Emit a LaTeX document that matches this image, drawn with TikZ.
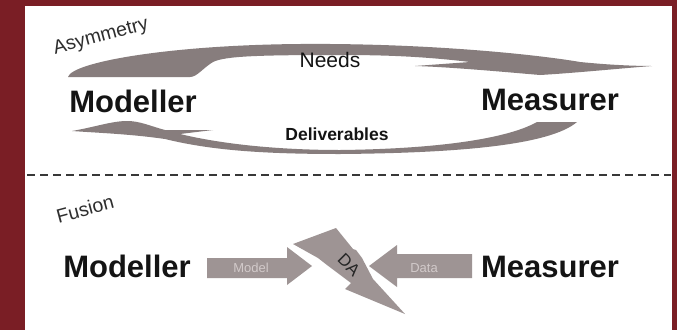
\documentclass[tikz,border=0pt]{standalone}
\usepackage{fontspec}
\setmainfont{Liberation Sans}
\definecolor{bgred}{HTML}{7A1E25}
\definecolor{swoosh}{HTML}{877D7D}
\definecolor{fusegray}{HTML}{9E9494}
\definecolor{lbl}{HTML}{D2CACA}
\definecolor{ink}{HTML}{141414}
\begin{document}
\begin{tikzpicture}[x=1pt,y=-1pt,
  bigtxt/.style={font=\fontsize{31}{31}\selectfont\bfseries, text=ink, inner sep=0, anchor=base},
  midtxt/.style={text=ink, inner sep=0, anchor=base},
  tagtxt/.style={font=\fontsize{19.5}{19.5}\selectfont, text=black!82, inner sep=0, rotate=15},
  smalltxt/.style={font=\fontsize{13}{13}\selectfont, text=lbl, inner sep=0, anchor=base},
  swooshfill/.style={fill=swoosh, draw=none},
  fusefill/.style={fill=fusegray, draw=none}]
\useasboundingbox (0,0) rectangle (677,330);
% background and panel
\fill[bgred] (0,0) rectangle (677,330);
\fill[white] (25,6) rectangle (672,330);
% dashed separator
\coordinate (dl) at (27,175);
\coordinate (dr) at (671,175);
\draw[black!78, line width=2.5pt, dash pattern=on 8pt off 5pt] (dl) -- (dr);

% ---------- Asymmetry ----------
\node[tagtxt] (asym) at (101,37) {Asymmetry};
% Needs swoosh (top, pointing right)
\fill[swooshfill] (68,77) .. controls (72,62) and (170,45) .. (300,44)
  .. controls (430,43) and (540,55) .. (580,62)
  .. controls (610,65) and (635,66) .. (652,66)
  .. controls (625,68) and (575,73) .. (540,75)
  .. controls (505,72) and (450,67) .. (415,66)
  -- (470,62)
  .. controls (420,56) and (380,55) .. (340,55)
  .. controls (260,55) and (225,56) .. (213,62)
  .. controls (203,68) and (197,77) .. (190,77)
  -- cycle;
% Deliverables swoosh (bottom, pointing left)
\fill[swooshfill] (72,131) .. controls (95,127) and (112,121) .. (127,121)
  .. controls (140,121) and (150,126) .. (165,130)
  -- (213,130)
  -- (180,134)
  .. controls (230,146) and (290,150) .. (340,150)
  .. controls (430,149) and (505,140) .. (537,122)
  -- (577,122)
  .. controls (550,145) and (460,153) .. (340,154)
  .. controls (260,154) and (210,150) .. (165,139)
  .. controls (130,134) and (100,133) .. (72,131) -- cycle;
\node[midtxt, font=\fontsize{21}{21}\selectfont] (needs) at (330,67) {Needs};
\node[midtxt, font=\fontsize{17.5}{17.5}\selectfont\bfseries] (deliv) at (337,140) {Deliverables};
\node[bigtxt] (mod1) at (133,112) {Modeller};
\node[bigtxt] (mea1) at (550,110) {Measurer};

% ---------- Fusion ----------
\node[tagtxt] (fusion) at (85,209) {Fusion};
% lightning DA
\fill[fusefill] (293,244) -- (336,228) -- (353,249) -- (356,250) -- (362,258)
  -- (373,279) -- (405,314) -- (345,289) -- (351,283) -- (327,265) -- (318,258) -- cycle;
% Model arrow (pointing right)
\fill[fusefill] (207,258) -- (287,258) -- (287,247) -- (312,266) -- (287,285)
  -- (287,278) -- (207,278) -- cycle;
% Data arrow (pointing left)
\fill[fusefill] (472,254) -- (397,254) -- (397,245) -- (369,266) -- (397,287)
  -- (397,278) -- (472,278) -- cycle;
\node[smalltxt] (modtxt) at (251,272) {Model};
\node[smalltxt] (datatxt) at (424,272) {Data};
\node[font=\fontsize{17}{17}\selectfont, text=black!85, inner sep=0, rotate=-45] (da) at (349,265) {DA};
\node[bigtxt] (mod2) at (127,277) {Modeller};
\node[bigtxt] (mea2) at (550,277) {Measurer};
\end{tikzpicture}
\end{document}
